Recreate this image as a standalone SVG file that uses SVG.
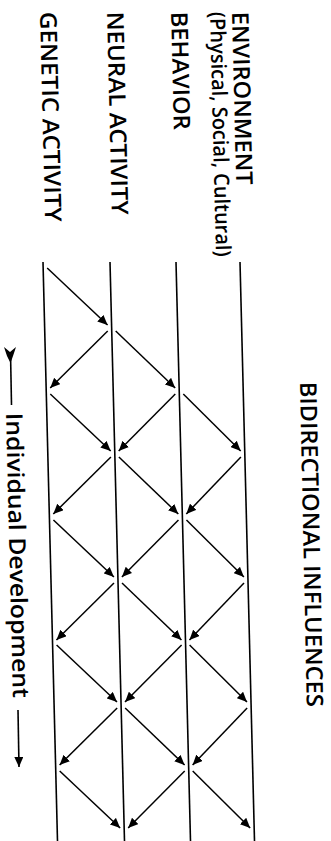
<svg xmlns="http://www.w3.org/2000/svg" width="331" height="841" viewBox="0 0 331 841">
<style>
.lbl{font-family:"Open Sans","Liberation Sans",sans-serif;font-size:23px;font-weight:600;fill:#000}
.sub{font-family:"Open Sans","Liberation Sans",sans-serif;font-size:21px;font-weight:600;fill:#000}
.dev{font-family:"Open Sans","Liberation Sans",sans-serif;font-size:23px;font-weight:600;fill:#000}
.axis{stroke:#000;stroke-width:1.6;fill:none}
.arr{stroke:#000;stroke-width:1.5;fill:none;marker-end:url(#ah)}
</style>
<defs>
<marker id="ah" markerWidth="11" markerHeight="9" refX="10" refY="4.5" orient="auto" markerUnits="userSpaceOnUse"><path d="M0,0 L10,4.5 L0,9 Z" fill="#000"/></marker>
</defs>
<rect width="331" height="841" fill="#fff"/>
<g id="labels">
<g id="environment"><text class="lbl" transform="translate(232,12) rotate(88.6)" textLength="173" lengthAdjust="spacingAndGlyphs">ENVIRONMENT</text>
<text class="sub" transform="translate(210,12) rotate(88.6)" textLength="245" lengthAdjust="spacingAndGlyphs">(Physical, Social, Cultural)</text></g>
<g id="behavior"><text class="lbl" transform="translate(171,12) rotate(88.6)" textLength="118" lengthAdjust="spacingAndGlyphs">BEHAVIOR</text></g>
<g id="neural"><text class="lbl" transform="translate(107,12) rotate(88.6)" textLength="203" lengthAdjust="spacingAndGlyphs">NEURAL ACTIVITY</text></g>
<g id="genetic"><text class="lbl" transform="translate(40,12) rotate(88.6)" textLength="210" lengthAdjust="spacingAndGlyphs">GENETIC ACTIVITY</text></g>
<g id="title"><text class="lbl" transform="translate(300,382) rotate(88.8)" textLength="325" lengthAdjust="spacingAndGlyphs">BIDIRECTIONAL INFLUENCES</text></g>
<g id="development"><text class="dev" transform="translate(6,413) rotate(88.6)" textLength="285" lengthAdjust="spacingAndGlyphs">Individual Development</text>
<polygon points="4,347 10,352 16,347 13,356 10.5,363 7,356" fill="#000"/>
<line class="axis" x1="10.5" y1="352" x2="11.5" y2="405"/>
<line class="axis" x1="18" y1="710" x2="19" y2="767" marker-end="url(#ah)"/></g>
</g>
<g id="levels">
<line class="axis" x1="43" y1="262" x2="57.5" y2="841"/>
<line class="axis" x1="110" y1="262" x2="124.5" y2="841"/>
<line class="axis" x1="176" y1="262" x2="190.5" y2="841"/>
<line class="axis" x1="240" y1="262" x2="254.5" y2="841"/>
</g>
<g id="connectors">
<line class="arr" x1="47.2" y1="268" x2="107.6" y2="325"/>
<line class="arr" x1="107.7" y1="331" x2="50.2" y2="388"/>
<line class="arr" x1="115.7" y1="331" x2="175.2" y2="388"/>
<line class="arr" x1="50.3" y1="394" x2="110.7" y2="451"/>
<line class="arr" x1="175.3" y1="394" x2="118.7" y2="451"/>
<line class="arr" x1="183.3" y1="394" x2="240.7" y2="451"/>
<line class="arr" x1="110.9" y1="457" x2="53.3" y2="514"/>
<line class="arr" x1="118.9" y1="457" x2="178.3" y2="514"/>
<line class="arr" x1="240.9" y1="457" x2="186.3" y2="514"/>
<line class="arr" x1="53.45" y1="520" x2="113.9" y2="577"/>
<line class="arr" x1="178.45" y1="520" x2="121.9" y2="577"/>
<line class="arr" x1="186.45" y1="520" x2="243.9" y2="577"/>
<line class="arr" x1="114" y1="583" x2="56.45" y2="640"/>
<line class="arr" x1="122" y1="583" x2="181.45" y2="640"/>
<line class="arr" x1="244" y1="583" x2="189.45" y2="640"/>
<line class="arr" x1="56.6" y1="645" x2="117" y2="702"/>
<line class="arr" x1="181.6" y1="645" x2="125" y2="702"/>
<line class="arr" x1="189.6" y1="645" x2="247" y2="702"/>
<line class="arr" x1="117.15" y1="708" x2="59.6" y2="765"/>
<line class="arr" x1="125.15" y1="708" x2="184.6" y2="765"/>
<line class="arr" x1="247.15" y1="708" x2="192.6" y2="765"/>
<line class="arr" x1="59.7" y1="771" x2="120.15" y2="828"/>
<line class="arr" x1="184.7" y1="771" x2="128.15" y2="828"/>
<line class="arr" x1="192.7" y1="771" x2="250.15" y2="828"/>
</g>
</svg>
